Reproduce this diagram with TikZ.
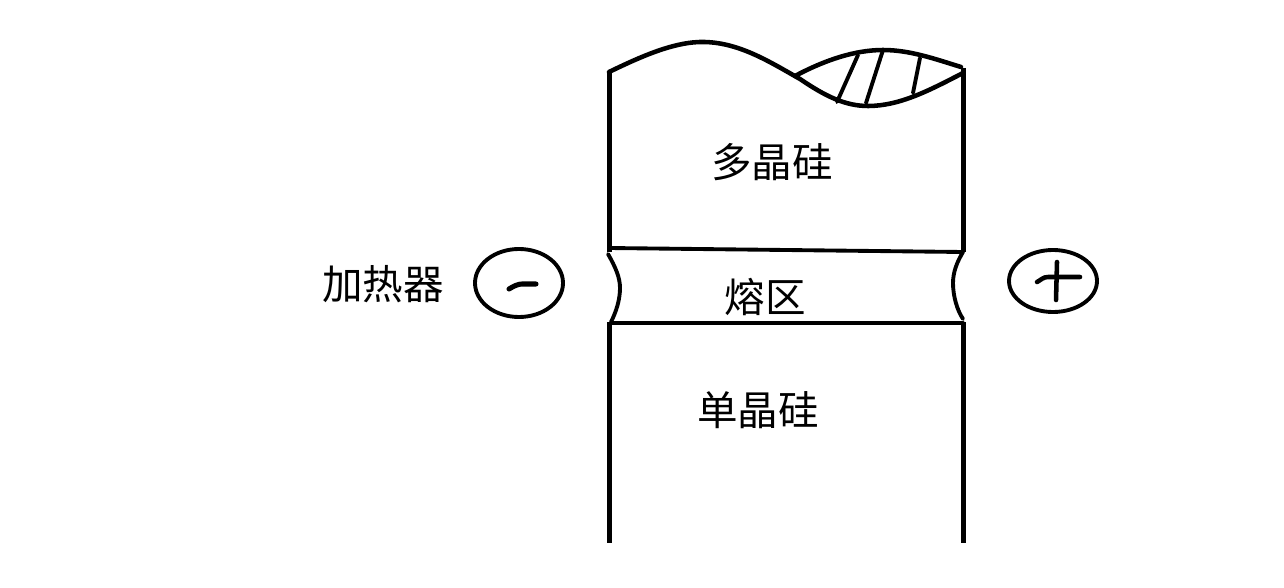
\documentclass[tikz,border=0pt]{standalone}
\usepackage{fontspec}
\setmainfont{Noto Sans CJK SC}
\tikzset{
  ink/.style={draw=black,line width=3.4pt,line cap=round,line join=round},
  thinink/.style={draw=black,line width=2.9pt,line cap=round,line join=round},
  wall/.style={draw=black,line width=3.8pt,line cap=butt},
  lbl/.style={font=\fontsize{30.4pt}{32pt}\selectfont,inner sep=0pt,text=black}
}
\begin{document}
\begin{tikzpicture}[x=0.75pt,y=-0.75pt]
\useasboundingbox (0,0) rectangle (1284,588);
% walls
\draw[wall] (609.5,71) -- (609.5,252);
\draw[wall] (609.5,322) -- (609.5,543);
\draw[wall] (963.5,68) -- (963.5,252);
\draw[wall] (963.5,322) -- (963.5,543);
% melted top surface
\draw[ink] (609,72) .. controls (640,57) and (675,41) .. (705,42)
  .. controls (740,43) and (770,62) .. (800,79)
  .. controls (825,96) and (845,106) .. (868,106)
  .. controls (900,106) and (930,90) .. (963,73);
\draw[ink] (795,76) .. controls (825,60) and (855,50) .. (883,50)
  .. controls (910,50) and (935,59) .. (961,67);
% hatching
\draw[thinink] (858,55) -- (837,102);
\draw[thinink] (883,50) -- (866,103);
\draw[thinink] (920,58) -- (913,93);
% molten zone
\draw[thinink] (609,248) -- (963,252);
\draw[thinink] (611,323) -- (963,323);
\draw[thinink] (608,254) .. controls (616,268) and (620,278) .. (620,288)
  .. controls (620,300) and (616,312) .. (611,322);
\draw[thinink] (963,252) .. controls (957,262) and (953,272) .. (953,283)
  .. controls (953,296) and (957,310) .. (963,319);
% heaters
\draw[thinink] (519,283) ellipse [x radius=44,y radius=34];
\draw[ink,line width=3.8pt] (509,289) .. controls (514,286) and (518,284) .. (522,284) -- (536,284);
\draw[thinink] (1053,281) ellipse [x radius=44,y radius=31];
\draw[ink] (1057,262) -- (1056,300);
\draw[ink] (1037,282) .. controls (1041,280) and (1043,277) .. (1048,277) -- (1080,277);
% labels
\node[lbl] (poly) at (772,162) {多晶硅};
\node[lbl] (melt) at (765,297) {熔区};
\node[lbl] (mono) at (758,410) {单晶硅};
\node[lbl] (heater) at (383,284) {加热器};
\end{tikzpicture}
\end{document}
